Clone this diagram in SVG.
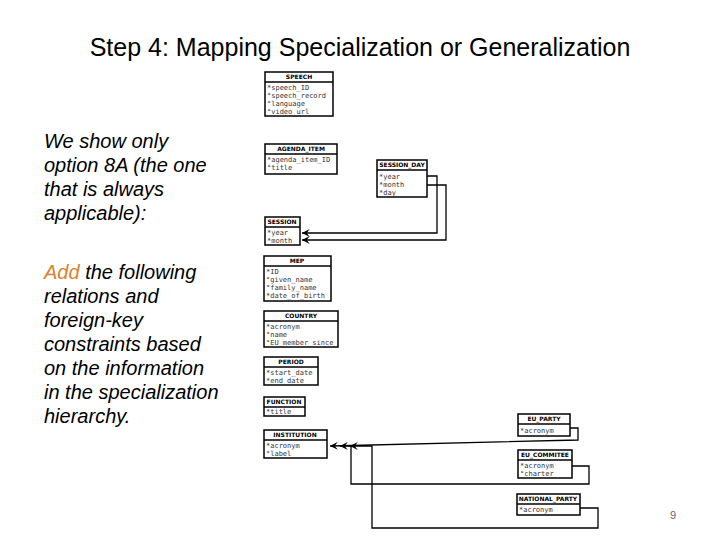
<svg xmlns="http://www.w3.org/2000/svg" width="720" height="540" viewBox="0 0 720 540">
<style>
.t{font-family:"Liberation Sans","DejaVu Sans",sans-serif;}
.title{font-size:25px;fill:#000}
.body{font-size:20px;font-style:italic;fill:#000}
.box{fill:#fff;stroke:#000;stroke-width:1.5}
.h{font-family:"DejaVu Sans",sans-serif;font-size:6px;font-weight:bold;text-anchor:middle}
.a{font-family:"DejaVu Sans Mono",monospace;font-size:7px;fill:#333}
.c{fill:none;stroke:#000;stroke-width:1.3}
</style>
<defs>
<marker id="ar" viewBox="0 0 10 10" refX="10" refY="5" markerWidth="6" markerHeight="6" orient="auto"><path d="M0,0 L10,5 L0,10 L4,5 z" fill="#000"/></marker>
</defs>
<text class="t title" x="360" y="56" text-anchor="middle">Step 4: Mapping Specialization or Generalization</text>
<text class="t body"><tspan x="44" y="148">We show only</tspan><tspan x="44" y="172">option 8A (the one</tspan><tspan x="44" y="196">that is always</tspan><tspan x="44" y="220">applicable):</tspan></text>
<text class="t body"><tspan x="44" y="279" fill="#d9822b">Add</tspan><tspan> the following</tspan><tspan x="44" y="303">relations and</tspan><tspan x="44" y="327">foreign-key</tspan><tspan x="44" y="351">constraints based</tspan><tspan x="44" y="375">on the information</tspan><tspan x="44" y="399">in the specialization</tspan><tspan x="44" y="423">hierarchy.</tspan></text>
<text class="t" x="673" y="519" font-size="11" fill="#666" text-anchor="middle">9</text>

<g id="SPEECH"><rect class="box" x="265" y="72" width="68" height="44"/><line class="box" x1="265" y1="82" x2="333" y2="82"/><text class="h" x="299" y="79">SPEECH</text><text class="a" x="267" y="90">*speech_ID</text><text class="a" x="267" y="98">°speech_record</text><text class="a" x="267" y="106">°language</text><text class="a" x="267" y="114">°video_url</text></g>
<g id="AGENDA_ITEM"><rect class="box" x="265" y="144" width="72" height="30"/><line class="box" x1="265" y1="154" x2="337" y2="154"/><text class="h" x="301" y="151">AGENDA_ITEM</text><text class="a" x="267" y="162">*agenda_item_ID</text><text class="a" x="267" y="170">°title</text></g>
<g id="SESSION_DAY"><rect class="box" x="377" y="160" width="50" height="37"/><line class="box" x1="377" y1="170" x2="427" y2="170"/><text class="h" x="402" y="167">SESSION_DAY</text><text class="a" x="379" y="179">*year</text><text class="a" x="379" y="187">*month</text><text class="a" x="379" y="195">*day</text></g>
<g id="SESSION"><rect class="box" x="265" y="217" width="35" height="28"/><line class="box" x1="265" y1="227" x2="300" y2="227"/><text class="h" x="282" y="224">SESSION</text><text class="a" x="267" y="235">*year</text><text class="a" x="267" y="243">*month</text></g>
<g id="MEP"><rect class="box" x="264" y="256" width="67" height="45"/><line class="box" x1="264" y1="266" x2="331" y2="266"/><text class="h" x="297" y="263">MEP</text><text class="a" x="266" y="274">*ID</text><text class="a" x="266" y="282">°given_name</text><text class="a" x="266" y="290">°family_name</text><text class="a" x="266" y="298">*date_of_birth</text></g>
<g id="COUNTRY"><rect class="box" x="264" y="311" width="74" height="36"/><line class="box" x1="264" y1="321" x2="338" y2="321"/><text class="h" x="301" y="318">COUNTRY</text><text class="a" x="266" y="329">*acronym</text><text class="a" x="266" y="337">°name</text><text class="a" x="266" y="345">°EU_member_since</text></g>
<g id="PERIOD"><rect class="box" x="264" y="357" width="54" height="28"/><line class="box" x1="264" y1="367" x2="318" y2="367"/><text class="h" x="291" y="364">PERIOD</text><text class="a" x="266" y="375">*start_date</text><text class="a" x="266" y="383">*end_date</text></g>
<g id="FUNCTION"><rect class="box" x="264" y="397" width="41" height="19"/><line class="box" x1="264" y1="407" x2="305" y2="407"/><text class="h" x="284" y="404">FUNCTION</text><text class="a" x="266" y="414">*title</text></g>
<g id="INSTITUTION"><rect class="box" x="264" y="430" width="63" height="28"/><line class="box" x1="264" y1="440" x2="327" y2="440"/><text class="h" x="295" y="437">INSTITUTION</text><text class="a" x="266" y="448">*acronym</text><text class="a" x="266" y="456">°label</text></g>
<g id="EU_PARTY"><rect class="box" x="518" y="414" width="52" height="22"/><line class="box" x1="518" y1="424" x2="570" y2="424"/><text class="h" x="544" y="421">EU_PARTY</text><text class="a" x="520" y="433">*acronym</text></g>
<g id="EU_COMMITEE"><rect class="box" x="518" y="450" width="54" height="28"/><line class="box" x1="518" y1="460" x2="572" y2="460"/><text class="h" x="545" y="457">EU_COMMITEE</text><text class="a" x="520" y="468">*acronym</text><text class="a" x="520" y="476">°charter</text></g>
<g id="NATIONAL_PARTY"><rect class="box" x="517" y="494" width="63" height="21"/><line class="box" x1="517" y1="504" x2="580" y2="504"/><text class="h" x="548" y="501">NATIONAL_PARTY</text><text class="a" x="519" y="512">*acronym</text></g>

<g id="connectors">
<path class="c" d="M427,176 H437 V233 H302" marker-end="url(#ar)"/>
<path class="c" d="M427,185 H446 V240 H302" marker-end="url(#ar)"/>
<path class="c" d="M570,428 H578 V440 L330,446" marker-end="url(#ar)"/>
<path class="c" d="M572,466 H589 V484 H351 V446 H340" marker-end="url(#ar)"/>
<path class="c" d="M580,508 H598 V528 H372 V446 H350" marker-end="url(#ar)"/>
</g>
</svg>
